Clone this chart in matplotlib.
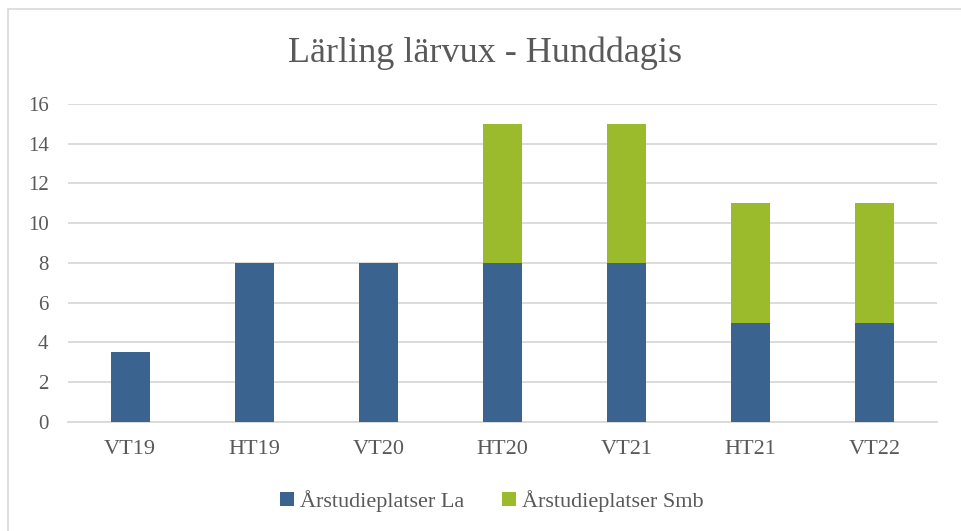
import matplotlib
matplotlib.use("Agg")
from matplotlib import pyplot as plt
from matplotlib.patches import Rectangle
import numpy as np

plt.rcParams['font.family'] = ['Liberation Serif', 'DejaVu Serif']

terms = ["VT19", "HT19", "VT20", "HT20", "VT21", "HT21", "VT22"]
la = [3.5, 8, 8, 8, 8, 5, 5]
smb = [0, 0, 0, 7, 7, 6, 6]
series_names = ["Årstudieplatser La", "Årstudieplatser Smb"]
colors = ["#3A648F", "#9BBB2C"]
text_color = "#595959"

fig = plt.figure(figsize=(9.61, 5.31), dpi=100)
fig.patches.append(Rectangle((0.008, -0.05), 1.2, 1.033, transform=fig.transFigure,
                             fill=False, edgecolor="#D9D9D9", linewidth=1.2))

ax = fig.add_axes([0.0708, 0.2053, 0.904, 0.5989])
x = np.arange(len(terms))
w = 0.315
ax.bar(x, la, w, color=colors[0], label=series_names[0], zorder=3)
ax.bar(x, smb, w, bottom=la, color=colors[1], label=series_names[1], zorder=3)

ax.set_xlim(-0.5, len(terms) - 0.5)
ax.set_ylim(0, 16)
ax.set_yticks(range(0, 17, 2))
ax.set_xticks(x)
ax.set_xticklabels(terms)
ax.grid(axis="y", color="#D9D9D9", linewidth=1.3, zorder=0)
for s in ["top", "right", "left"]:
    ax.spines[s].set_visible(False)
ax.spines["bottom"].set_color("#D9D9D9")
ax.spines["bottom"].set_linewidth(1.3)
ax.tick_params(length=0, colors=text_color, labelsize=15)
ax.tick_params(axis="x", labelsize=16, pad=13)
ax.tick_params(axis="y", pad=14)

fig.text(0.505, 0.9, "Lärling lärvux - Hunddagis", ha="center", va="center",
         fontsize=26, color=text_color)

leg = fig.legend(loc="center", bbox_to_anchor=(0.512, 0.057), ncol=2, frameon=False,
                 fontsize=16, handlelength=0.6, handleheight=0.6, handletextpad=0.3,
                 columnspacing=1.7, labelcolor=text_color)

plt.savefig("out.png", dpi=100)
plt.close()
